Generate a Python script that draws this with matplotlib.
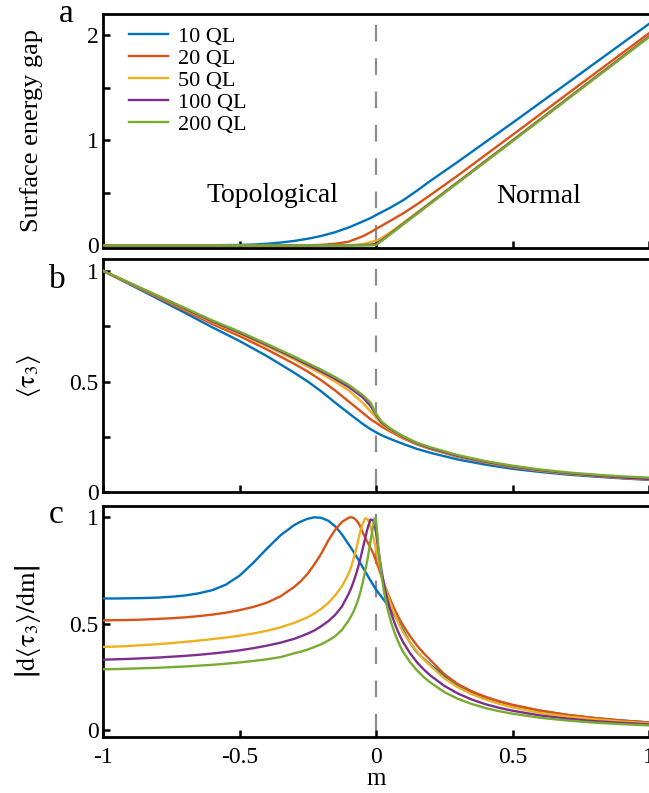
import numpy as np
import matplotlib
matplotlib.use("Agg")
import matplotlib.pyplot as plt

plt.rcParams['font.family'] = ['Liberation Serif', 'DejaVu Serif']
plt.rcParams['mathtext.fontset'] = 'stix'

labels = ['10 QL', '20 QL', '50 QL', '100 QL', '200 QL']
colors = ['#0072BD', '#D95319', '#EDB120', '#7E2F8E', '#77AC30']

# ---- panel a: surface energy gap ----
m_a = [-1, -0.8, -0.6, -0.5, -0.45, -0.4, -0.35, -0.3, -0.25, -0.2, -0.15, -0.1, -0.05,
       -0.02, 0, 0.02, 0.05, 0.1, 0.15, 0.2, 0.3, 0.5, 0.75, 1.0]
gap_10 = [0, 0, 0.001, 0.004, 0.008, 0.015, 0.027, 0.042, 0.063, 0.09, 0.125, 0.17, 0.225,
          0.26, 0.288, 0.315, 0.355, 0.43, 0.52, 0.615, 0.795, 1.165, 1.635, 2.106]
gap_20 = [0, 0, 0, 0, 0, 0, 0, 0, 0.001, 0.005, 0.015, 0.035, 0.085,
          0.125, 0.156, 0.185, 0.23, 0.305, 0.39, 0.48, 0.665, 1.05, 1.535, 2.017]
gap_50 = [0, 0, 0, 0, 0, 0, 0, 0, 0, 0, 0, 0, 0.012,
          0.03, 0.045, 0.07, 0.12, 0.215, 0.312, 0.41, 0.605, 1.0, 1.495, 1.99]
gap_100 = [0, 0, 0, 0, 0, 0, 0, 0, 0, 0, 0, 0, 0.002,
           0.006, 0.015, 0.048, 0.105, 0.205, 0.304, 0.403, 0.6, 0.995, 1.49, 1.985]
gap_200 = [0, 0, 0, 0, 0, 0, 0, 0, 0, 0, 0, 0, 0,
           0, 0.003, 0.04, 0.1, 0.2, 0.298, 0.398, 0.595, 0.99, 1.485, 1.98]

# ---- panel b: <tau3> ----
m_b = [-1, -0.9, -0.8, -0.7, -0.6, -0.5, -0.4, -0.3, -0.25, -0.2, -0.15, -0.1, -0.05, -0.02,
       0, 0.02, 0.05, 0.1, 0.15, 0.2, 0.3, 0.4, 0.5, 0.6, 0.7, 0.8, 0.9, 1.0]
tau_10 = [1.0, 0.937, 0.874, 0.81, 0.745, 0.683, 0.615, 0.54, 0.5, 0.455, 0.405, 0.357, 0.31, 0.285,
          0.271, 0.258, 0.242, 0.218, 0.196, 0.178, 0.148, 0.125, 0.106, 0.092, 0.08, 0.071, 0.063, 0.056]
tau_20 = [1.0, 0.94, 0.88, 0.82, 0.76, 0.705, 0.645, 0.58, 0.545, 0.505, 0.46, 0.41, 0.36, 0.33,
          0.314, 0.297, 0.276, 0.243, 0.216, 0.195, 0.16, 0.134, 0.113, 0.097, 0.084, 0.074, 0.065, 0.058]
tau_50 = [1.0, 0.942, 0.884, 0.826, 0.768, 0.715, 0.66, 0.6, 0.567, 0.535, 0.5, 0.46, 0.405, 0.365,
          0.338, 0.31, 0.283, 0.247, 0.219, 0.197, 0.162, 0.136, 0.115, 0.098, 0.085, 0.075, 0.066, 0.059]
tau_100 = [1.0, 0.943, 0.886, 0.829, 0.772, 0.72, 0.665, 0.607, 0.576, 0.545, 0.512, 0.475, 0.43, 0.39,
           0.35, 0.315, 0.287, 0.25, 0.221, 0.199, 0.164, 0.138, 0.117, 0.1, 0.087, 0.076, 0.067, 0.06]
tau_200 = [1.0, 0.944, 0.888, 0.832, 0.776, 0.725, 0.67, 0.613, 0.583, 0.553, 0.52, 0.485, 0.44, 0.405,
           0.355, 0.32, 0.29, 0.253, 0.224, 0.203, 0.168, 0.141, 0.12, 0.103, 0.09, 0.08, 0.072, 0.066]

# ---- panel c: |d<tau3>/dm| (normalised) ----
m_c = [-1, -0.95, -0.9, -0.85, -0.8, -0.75, -0.7, -0.65, -0.6, -0.55, -0.5, -0.45, -0.4, -0.35, -0.3,
       -0.275, -0.25, -0.225, -0.2, -0.175, -0.15, -0.125, -0.1,
       -0.09, -0.08, -0.07, -0.06, -0.05, -0.04, -0.03, -0.02, -0.01, -0.005, 0, 0.005, 0.01,
       0.02, 0.03, 0.04, 0.05, 0.06, 0.07, 0.08, 0.09, 0.1,
       0.125, 0.15, 0.175, 0.2,
       0.25, 0.3, 0.35, 0.4, 0.45, 0.5,
       0.6, 0.7, 0.8, 0.9, 1.0]
d_10 = [0.618, 0.618, 0.619, 0.62, 0.622, 0.626, 0.632, 0.642, 0.657, 0.683, 0.725, 0.785, 0.852, 0.915, 0.963,
        0.98, 0.993, 1.0, 0.997, 0.984, 0.958, 0.92, 0.872,
        0.853, 0.833, 0.812, 0.79, 0.768, 0.746, 0.724, 0.702, 0.681, 0.67, 0.66, 0.651, 0.643,
        0.626, 0.609, 0.592, 0.574, 0.556, 0.535, 0.513, 0.49, 0.467,
        0.41, 0.365, 0.335, 0.305,
        0.255, 0.21, 0.178, 0.153, 0.133, 0.116,
        0.09, 0.07, 0.055, 0.044, 0.035]
d_20 = [0.515, 0.516, 0.517, 0.519, 0.522, 0.525, 0.529, 0.535, 0.542, 0.551, 0.563, 0.578, 0.598, 0.628, 0.672,
        0.7, 0.735, 0.78, 0.83, 0.89, 0.94, 0.978, 0.998,
        1.0, 0.995, 0.983, 0.963, 0.932, 0.905, 0.88, 0.856, 0.83, 0.812, 0.795, 0.778, 0.76,
        0.722, 0.686, 0.652, 0.62, 0.59, 0.562, 0.536, 0.512, 0.49,
        0.44, 0.397, 0.36, 0.327,
        0.262, 0.215, 0.182, 0.156, 0.135, 0.118,
        0.091, 0.071, 0.056, 0.044, 0.035]
d_50 = [0.39, 0.392, 0.395, 0.399, 0.403, 0.408, 0.414, 0.42, 0.427, 0.434, 0.443, 0.453, 0.466, 0.482, 0.503,
        0.516, 0.53, 0.548, 0.57, 0.597, 0.632, 0.675, 0.735,
        0.77, 0.815, 0.865, 0.92, 0.965, 0.995, 0.99, 0.955, 0.905, 0.878, 0.85, 0.82, 0.79,
        0.735, 0.688, 0.645, 0.605, 0.57, 0.538, 0.509, 0.483, 0.459,
        0.41, 0.368, 0.332, 0.3,
        0.243, 0.2, 0.168, 0.143, 0.123, 0.106,
        0.08, 0.063, 0.05, 0.039, 0.031]
d_100 = [0.33, 0.332, 0.334, 0.337, 0.34, 0.344, 0.348, 0.353, 0.359, 0.366, 0.374, 0.384, 0.396, 0.41, 0.428,
         0.44, 0.453, 0.468, 0.488, 0.511, 0.54, 0.58, 0.64,
         0.67, 0.705, 0.745, 0.79, 0.845, 0.9, 0.952, 0.99, 0.985, 0.965, 0.93, 0.88, 0.835,
         0.75, 0.68, 0.622, 0.574, 0.532, 0.496, 0.464, 0.436, 0.411,
         0.36, 0.318, 0.284, 0.255,
         0.207, 0.171, 0.143, 0.121, 0.104, 0.09,
         0.068, 0.053, 0.041, 0.033, 0.026]
d_200 = [0.285, 0.286, 0.288, 0.29, 0.292, 0.295, 0.298, 0.302, 0.306, 0.311, 0.317, 0.324, 0.332, 0.342, 0.36,
         0.368, 0.378, 0.39, 0.403, 0.42, 0.44, 0.47, 0.515,
         0.537, 0.563, 0.595, 0.635, 0.685, 0.745, 0.81, 0.89, 0.96, 0.995, 0.985, 0.92, 0.84,
         0.725, 0.645, 0.582, 0.53, 0.487, 0.45, 0.418, 0.39, 0.366,
         0.318, 0.28, 0.248, 0.222,
         0.178, 0.146, 0.122, 0.103, 0.088, 0.076,
         0.057, 0.044, 0.034, 0.027, 0.021]

W, H = 649, 793
fig = plt.figure(figsize=(W / 100, H / 100), dpi=100)

def box(top, bottom, left=103, right=649):
    return [left / W, 1 - bottom / H, (right - left) / W, (bottom - top) / H]

axa = fig.add_axes(box(14, 248))
axb = fig.add_axes(box(259, 492.3))
axc = fig.add_axes(box(506, 737.3))

def style(ax, ylim, major, minor, ylabels, show_x):
    ax.set_xlim(-1, 1)
    ax.set_ylim(*ylim)
    for s in ['top', 'bottom', 'left']:
        ax.spines[s].set_linewidth(2.0)
        ax.spines[s].set_color('black')
    ax.spines['right'].set_visible(False)
    ax.set_yticks(major)
    ax.set_yticklabels(ylabels)
    ax.set_yticks(minor, minor=True)
    ax.set_xticks([-1, -0.5, 0, 0.5, 1])
    ax.set_xticklabels(['-1', '-0.5', '0', '0.5', '1'] if show_x else [])
    ax.tick_params(which='both', direction='in', length=5, width=1.8, labelsize=17,
                   top=False, right=False, pad=3)
    ax.tick_params(axis='x', pad=7)
    ax.axvline(0, color='#8c8c8c', lw=1.6, ls=(12.1, (7.5, 7.5)), zorder=1)

style(axa, (-0.025, 2.2), [0, 1, 2], [0.5, 1.5], ['0', '1', '2'], False)
style(axb, (0, 1.053), [0, 0.5, 1], [0.25, 0.75], ['0', '0.5', '1'], False)
style(axc, (-0.035, 1.053), [0, 0.5, 1], [], ['0', '0.5', '1'], True)

for y, c, l in zip([gap_10, gap_20, gap_50, gap_100, gap_200], colors, labels):
    axa.plot(m_a, y, color=c, lw=1.7, label=l, zorder=3)
for y, c in zip([tau_10, tau_20, tau_50, tau_100, tau_200], colors):
    axb.plot(m_b, y, color=c, lw=1.7, zorder=3)
for y, c in zip([d_10, d_20, d_50, d_100, d_200], colors):
    axc.plot(m_c, y, color=c, lw=1.7, zorder=3)

axa.legend(loc='upper left', bbox_to_anchor=(0.048, 0.948), frameon=False, fontsize=16,
           handlelength=1.75, handletextpad=0.45, labelspacing=0.07, borderpad=0,
           borderaxespad=0)

axa.text(-0.378, 0.41, 'Topological', fontsize=20, ha='center', va='baseline')
axa.text(0.596, 0.40, 'Normal', fontsize=20, ha='center', va='baseline')

axa.set_ylabel('Surface energy gap', fontsize=19)
axb.set_ylabel(r'$\langle\mathrm{\tau}_3\rangle$', fontsize=19)
axc.set_ylabel(r'$\left|\mathrm{d}\langle\mathrm{\tau}_3\rangle/\mathrm{dm}\right|$', fontsize=19)
axc.set_xlabel('m', fontsize=18, labelpad=0)
for ax in (axa, axb, axc):
    ax.yaxis.set_label_coords((43 - 103) / 546, 0.5)

fig.text(66 / W, 1 - 22 / H, 'a', fontsize=24, ha='center', va='baseline')
fig.text(57 / W, 1 - 288 / H, 'b', fontsize=24, ha='center', va='baseline')
fig.text(56 / W, 1 - 523 / H, 'c', fontsize=24, ha='center', va='baseline')

fig.savefig('out.png', dpi=100)
